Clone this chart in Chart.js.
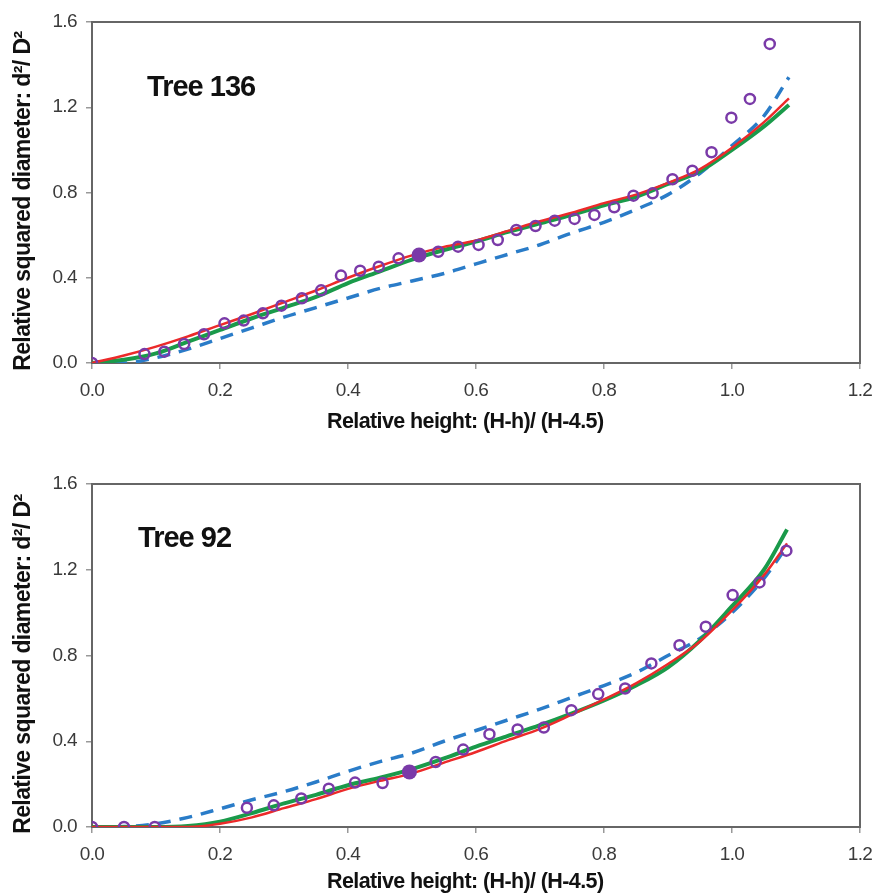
<!DOCTYPE html>
<html>
<head>
<meta charset="utf-8">
<script src="https://cdn.jsdelivr.net/npm/chart.js@4/dist/chart.umd.min.js"></script>
<style>
html,body{margin:0;padding:0;background:#fff;width:877px;height:893px;overflow:hidden;}
#c1wrap{position:absolute;left:0;top:0;width:877px;height:446px;}
#c2wrap{position:absolute;left:0;top:446px;width:877px;height:447px;}
</style>
</head>
<body>
<div id="c1wrap"><canvas id="c1"></canvas></div>
<div id="c2wrap"><canvas id="c2"></canvas></div>
<script>
// ---------- Data ----------
const xTicks = [0.0, 0.2, 0.4, 0.6, 0.8, 1.0, 1.2];
const yTicks = [0.0, 0.4, 0.8, 1.2, 1.6];
const xTitle = 'Relative height: (H-h)/ (H-4.5)';
const yTitle = 'Relative squared diameter: d\u00B2/ D\u00B2';

// Tree 136
const t136Label = 'Tree 136';
const t136LabelPos = [0.086, 1.29];
const t136CurveX = [0, 0.05, 0.1, 0.15, 0.2, 0.25, 0.3, 0.35, 0.4, 0.45, 0.5, 0.55, 0.6, 0.65, 0.7, 0.75, 0.8, 0.85, 0.9, 0.95, 1.0, 1.05, 1.089];
const t136Red   = [0, 0.035, 0.077, 0.125, 0.178, 0.23, 0.285, 0.34, 0.40, 0.455, 0.505, 0.545, 0.575, 0.62, 0.665, 0.705, 0.75, 0.79, 0.845, 0.91, 1.01, 1.13, 1.242];
const t136Green = [0, 0.015, 0.045, 0.10, 0.155, 0.21, 0.26, 0.31, 0.375, 0.43, 0.485, 0.53, 0.57, 0.615, 0.655, 0.695, 0.74, 0.78, 0.84, 0.90, 1.00, 1.11, 1.211];
const t136Blue  = [0, 0.0, 0.025, 0.065, 0.115, 0.165, 0.215, 0.26, 0.305, 0.35, 0.385, 0.42, 0.465, 0.51, 0.555, 0.61, 0.66, 0.72, 0.79, 0.89, 1.02, 1.16, 1.341];
const t136ObsX = [0, 0.082, 0.113, 0.144, 0.175, 0.207, 0.237, 0.267, 0.296, 0.328, 0.358, 0.389, 0.419, 0.448, 0.479, 0.541, 0.572, 0.604, 0.634, 0.663, 0.693, 0.723, 0.754, 0.785, 0.816, 0.846, 0.876, 0.907, 0.938, 0.968, 0.999, 1.028, 1.059];
const t136ObsY = [0, 0.042, 0.053, 0.089, 0.135, 0.186, 0.199, 0.233, 0.269, 0.304, 0.341, 0.410, 0.433, 0.452, 0.491, 0.522, 0.546, 0.554, 0.577, 0.624, 0.643, 0.668, 0.676, 0.695, 0.731, 0.785, 0.796, 0.862, 0.902, 0.989, 1.151, 1.239, 1.497];
const t136RefX = [0.511];
const t136RefY = [0.507];

// Tree 92
const t92Label = 'Tree 92';
const t92LabelPos = [0.072, 1.343];
const t92CurveX = [0, 0.05, 0.1, 0.15, 0.2, 0.25, 0.3, 0.35, 0.4, 0.45, 0.5, 0.55, 0.6, 0.65, 0.7, 0.75, 0.8, 0.85, 0.9, 0.95, 1.0, 1.05, 1.086];
const t92Red   = [0, 0.0, 0.0, 0.0, 0.015, 0.045, 0.088, 0.13, 0.178, 0.215, 0.25, 0.30, 0.35, 0.405, 0.458, 0.525, 0.595, 0.67, 0.76, 0.865, 1.01, 1.175, 1.323];
const t92Green = [0, 0.0, 0.0, 0.005, 0.025, 0.065, 0.11, 0.15, 0.195, 0.23, 0.27, 0.32, 0.375, 0.425, 0.475, 0.53, 0.59, 0.66, 0.745, 0.87, 1.03, 1.20, 1.388];
const t92Blue  = [0, 0.002, 0.015, 0.045, 0.085, 0.127, 0.165, 0.21, 0.26, 0.305, 0.345, 0.40, 0.45, 0.50, 0.55, 0.605, 0.66, 0.72, 0.80, 0.88, 1.0, 1.16, 1.31];
const t92ObsX = [0, 0.05, 0.098, 0.242, 0.284, 0.327, 0.37, 0.411, 0.454, 0.537, 0.58, 0.621, 0.665, 0.706, 0.749, 0.791, 0.833, 0.874, 0.918, 0.959, 1.001, 1.043, 1.085];
const t92ObsY = [0, 0, 0, 0.09, 0.101, 0.133, 0.179, 0.207, 0.205, 0.303, 0.361, 0.433, 0.455, 0.464, 0.545, 0.62, 0.646, 0.763, 0.848, 0.934, 1.082, 1.141, 1.289];
const t92RefX = [0.496];
const t92RefY = [0.257];

// ---------- Build ----------
const pairs = (xs, ys) => xs.map((x, i) => ({x: x, y: ys[i]}));
const FONT = "'Liberation Sans', Arial, Helvetica, sans-serif";
const RED = '#ec2a2a', GREEN = '#1a9a4a', BLUE = '#2a7cc8', PURPLE = '#7a3aa8';
const NB = '\u00A0';

const boxAndLabel = {
  id: 'boxAndLabel',
  beforeDraw(chart) { chart.ctx.letterSpacing = '-0.6px'; },
  beforeDatasetsDraw(chart) {
    const {ctx, chartArea: a} = chart;
    ctx.save();
    ctx.strokeStyle = '#666';
    ctx.lineWidth = 2;
    ctx.strokeRect(a.left, a.top, a.right - a.left, a.bottom - a.top);
    const o = chart.options.plugins.boxAndLabel;
    ctx.fillStyle = '#111';
    ctx.font = "bold 29px " + FONT;
    ctx.letterSpacing = '-1px';
    ctx.textAlign = 'left';
    ctx.textBaseline = 'middle';
    ctx.fillText(o.text, chart.scales.x.getPixelForValue(o.pos[0]), chart.scales.y.getPixelForValue(o.pos[1]));
    ctx.restore();
  }
};

function makeChart(id, cx, red, green, blue, ox, oy, rx, ry, label, lpos, padTop, xAxisH, xTitlePadBottom) {
  return new Chart(document.getElementById(id), {
    type: 'scatter',
    data: {
      datasets: [
        {data: pairs(ox, oy), showLine: false, pointRadius: 5, pointBorderWidth: 2.5, pointBorderColor: PURPLE, pointBackgroundColor: 'rgba(0,0,0,0)', order: 1},
        {data: pairs(rx, ry), showLine: false, pointRadius: 7.5, pointBorderWidth: 0, pointBackgroundColor: PURPLE, order: 0},
        {data: pairs(cx, red), showLine: true, borderColor: RED, borderWidth: 2.5, pointRadius: 0, cubicInterpolationMode: 'monotone', order: 2},
        {data: pairs(cx, green), showLine: true, borderColor: GREEN, borderWidth: 4, pointRadius: 0, cubicInterpolationMode: 'monotone', order: 3},
        {data: pairs(cx, blue), showLine: true, borderColor: BLUE, borderWidth: 3.5, borderDash: [13, 9], pointRadius: 0, cubicInterpolationMode: 'monotone', order: 4}
      ]
    },
    options: {
      responsive: true,
      maintainAspectRatio: false,
      animation: false,
      layout: {padding: {top: padTop, right: 17, left: 0, bottom: 0}},
      plugins: {legend: {display: false}, tooltip: {enabled: false}, boxAndLabel: {text: label, pos: lpos}},
      scales: {
        x: {
          type: 'linear', min: 0, max: 1.2,
          afterBuildTicks: s => { s.ticks = xTicks.map(v => ({value: v})); },
          afterFit: s => { s.height = xAxisH; s.paddingLeft = 0; s.paddingRight = 0; },
          ticks: {font: {family: FONT, size: 19}, color: '#3a3a3a', padding: 10, maxRotation: 0, callback: v => v.toFixed(1)},
          grid: {drawOnChartArea: false, drawTicks: true, tickLength: 6, color: '#999', lineWidth: 1.5},
          border: {display: true, color: '#666', width: 2},
          title: {display: true, text: xTitle + NB + NB + NB + NB, font: {family: FONT, size: 21.5, weight: 'bold', lineHeight: 1}, color: '#111', padding: {top: 0, bottom: xTitlePadBottom}}
        },
        y: {
          type: 'linear', min: 0, max: 1.6,
          afterBuildTicks: s => { s.ticks = yTicks.map(v => ({value: v})); },
          afterFit: s => { s.width = 92; s.paddingTop = 0; s.paddingBottom = 0; },
          ticks: {font: {family: FONT, size: 19}, color: '#3a3a3a', padding: 9, callback: v => v.toFixed(1)},
          grid: {drawOnChartArea: false, drawTicks: true, tickLength: 6, color: '#999', lineWidth: 1.5},
          border: {display: true, color: '#666', width: 2},
          title: {display: true, text: yTitle + NB + NB + NB, font: {family: FONT, size: 23, weight: 'bold', lineHeight: 1}, color: '#111', padding: {top: 12, bottom: 0}}
        }
      }
    },
    plugins: [boxAndLabel]
  });
}

makeChart('c1', t136CurveX, t136Red, t136Green, t136Blue, t136ObsX, t136ObsY, t136RefX, t136RefY, t136Label, t136LabelPos, 22, 83, 13);
makeChart('c2', t92CurveX, t92Red, t92Green, t92Blue, t92ObsX, t92ObsY, t92RefX, t92RefY, t92Label, t92LabelPos, 38, 66, 0);
</script>
</body>
</html>
